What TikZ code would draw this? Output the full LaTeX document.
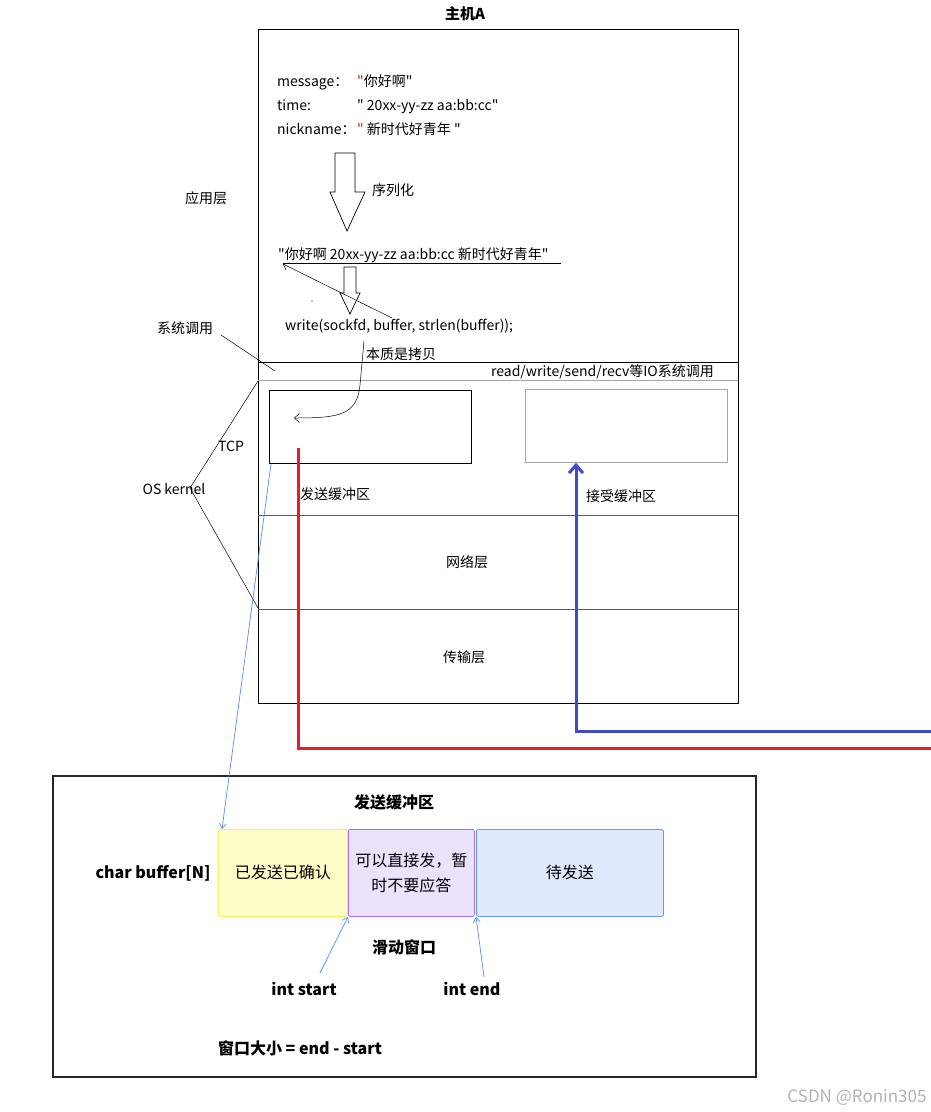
\documentclass[tikz,border=0pt]{standalone}
\usepackage{fontspec}
\setmainfont{Noto Sans CJK SC}[Ligatures=TeXOff]
\usetikzlibrary{arrows.meta}
\definecolor{redline}{RGB}{230,30,40}
\definecolor{blueline}{RGB}{65,75,200}
\definecolor{thinblue}{RGB}{80,140,250}
\definecolor{qred}{RGB}{190,40,40}
\definecolor{yfill}{RGB}{255,253,200}
\definecolor{ydraw}{RGB}{255,236,90}
\definecolor{pfill}{RGB}{236,226,252}
\definecolor{pdraw}{RGB}{170,110,240}
\definecolor{bfill}{RGB}{225,233,255}
\definecolor{bdraw}{RGB}{100,150,250}
\definecolor{rulegray}{RGB}{90,90,90}
\tikzset{
  txt/.style={inner sep=0pt, text height=11pt, text depth=0.5pt, font=\fontsize{14}{16}\selectfont},
  btxt/.style={inner sep=0pt, text height=12.5pt, text depth=0.5pt, font=\fontsize{16}{18}\selectfont\bfseries},
  bufbox/.style={draw, line width=0.8pt, minimum height=87pt, inner sep=0pt, rounded corners=2pt, font=\fontsize{16}{25}\selectfont, align=center},
  hollow/.style={draw, line width=0.7pt, fill=white},
  thinarr/.style={thinblue, line width=0.7pt, -{Straight Barb[length=5pt,width=7pt]}},
}
\begin{document}
\begin{tikzpicture}[x=1pt,y=-1pt]
\useasboundingbox (0,0) rectangle (931,1112);
% title
\node[inner sep=0pt, text height=12pt, text depth=0.5pt, font=\fontsize{15}{17}\selectfont\bfseries] (title) at (465,14) {主机A};
% main host box
\draw[line width=0.7pt] (258,29) rectangle (738,703);
\draw[line width=0.7pt] (258,362) -- (738,362) -- (738,380);
\draw[line width=1pt, gray!70] (258,380) -- (738,380);
\draw[line width=0.8pt, rulegray] (258,515) -- (738,515);
\draw[line width=0.8pt, rulegray] (258,609) -- (738,609);
% application layer texts
\node[txt, anchor=west] (m1) at (277,81) {message：};
\node[txt, anchor=west] (m1v) at (357,81) {\textcolor{qred}{"}你好啊"};
\node[txt, anchor=west] (m2) at (277,105) {time:};
\node[txt, anchor=west] (m2v) at (357,105) {" 20xx-yy-zz aa:bb:cc"};
\node[txt, anchor=west] (m3) at (277,129) {nickname：};
\node[txt, anchor=west] (m3v) at (357,129) {\textcolor{qred}{"} 新时代好青年 "};
% big hollow arrow (serialization)
\draw[hollow] (335,153) -- (355,153) -- (355,192) -- (365,192) -- (347,231) -- (330,192) -- (335,192) -- cycle;
\node[txt, anchor=west] (ser) at (372,190) {序列化};
\node[txt] (app) at (206,198) {应用层};
% serialized string
\node[txt, anchor=west] (str) at (278,254) {"你好啊 20xx-yy-zz aa:bb:cc 新时代好青年"};
\draw[line width=0.7pt] (283,263) -- (561,263);
% small hollow arrow
\draw[hollow] (344,267) -- (356,267) -- (356,293) -- (360,293) -- (350,314) -- (340,293) -- (344,293) -- cycle;
\fill (312,301) circle (0.7pt);
\node[txt, anchor=west] (write) at (285,325) {write(sockfd, buffer, strlen(buffer));};
\coordinate (strstart) at (283,264);
\coordinate (pointer) at (392,318);
\draw[line width=0.5pt, -{Straight Barb[length=5pt,width=8pt]}] (pointer) -- (strstart);
% copy curve
\node[txt, anchor=west] (copy) at (366,354) {本质是拷贝};
\coordinate (cstart) at (364,341);
\coordinate (cend) at (294,418);
\draw[line width=0.5pt, -{Straight Barb[length=5pt,width=9pt]}] (cstart) -- (360,385) .. controls (357,415) and (340,418) .. (cend);
% system call label
\node[txt] (sys) at (185,328) {系统调用};
\coordinate (sysend) at (275,371);
\draw[line width=0.5pt] (221,335) -- (sysend);
\node[txt, anchor=east] (io) at (714,371) {read/write/send/recv等IO系统调用};
% buffers
\node[draw, line width=0.8pt, minimum width=202pt, minimum height=73pt, inner sep=0pt, anchor=north west] (sendbuf) at (269,390) {};
\node[draw=gray!70, line width=0.8pt, minimum width=202pt, minimum height=73pt, inner sep=0pt, anchor=north west] (recvbuf) at (525,389) {};
\node[txt, anchor=west] (sendlbl) at (300,494) {发送缓冲区};
\node[txt, anchor=west] (recvlbl) at (586,496) {接受缓冲区};
\node[txt] (net) at (467,562) {网络层};
\node[txt] (trans) at (464,657) {传输层};
% OS kernel brace
\node[txt] (tcp) at (231,446) {TCP};
\node[txt] (os) at (174,489) {OS kernel};
\draw[line width=0.5pt] (258,381) -- (190,488) -- (258,608);
% red line
\draw[redline, line width=3pt] (298,448) -- (298,748) -- (931,748);
% blue line
\draw[blueline, line width=3pt, -{Straight Barb[length=8pt,width=14pt]}] (931,731) -- (576,731) -- (recvbuf.south west -| 576,0);
% thin blue connector to bottom box
\coordinate (sbcorner) at (271,464);
% bottom box
\draw[line width=2.2pt, black!85] (53,776) rectangle (756,1077);
\node[btxt] (sbtitle) at (394,802) {发送缓冲区};
\node[btxt] (cbuf) at (153,872) {char buffer[N]};
\node[bufbox, fill=yfill, draw=ydraw, minimum width=129pt, anchor=north west] (acked) at (218,829) {已发送已确认};
\node[bufbox, fill=pfill, draw=pdraw, minimum width=126pt, anchor=north west] (win) at (348,829) {可以直接发，暂\\时不要应答};
\node[bufbox, fill=bfill, draw=bdraw, minimum width=187pt, anchor=north west] (pend) at (476,829) {待发送};
\draw[thinarr] (sbcorner) -- ([xshift=4pt]acked.north west);
\node[btxt] (slide) at (404,947) {滑动窗口};
\node[btxt] (istart) at (304,989) {int start};
\node[btxt] (iend) at (472,989) {int end};
\draw[thinarr] (320,973) -- (win.south west);
\draw[thinarr] (484,977) -- (pend.south west);
\node[btxt] (wsize) at (300,1048) {窗口大小 = end - start};
\node[inner sep=0pt, text height=13pt, text depth=0.5pt, font=\fontsize{17}{19}\selectfont, text=gray!60] (wm) at (857,1096) {CSDN @Ronin305};
\end{tikzpicture}
\end{document}
